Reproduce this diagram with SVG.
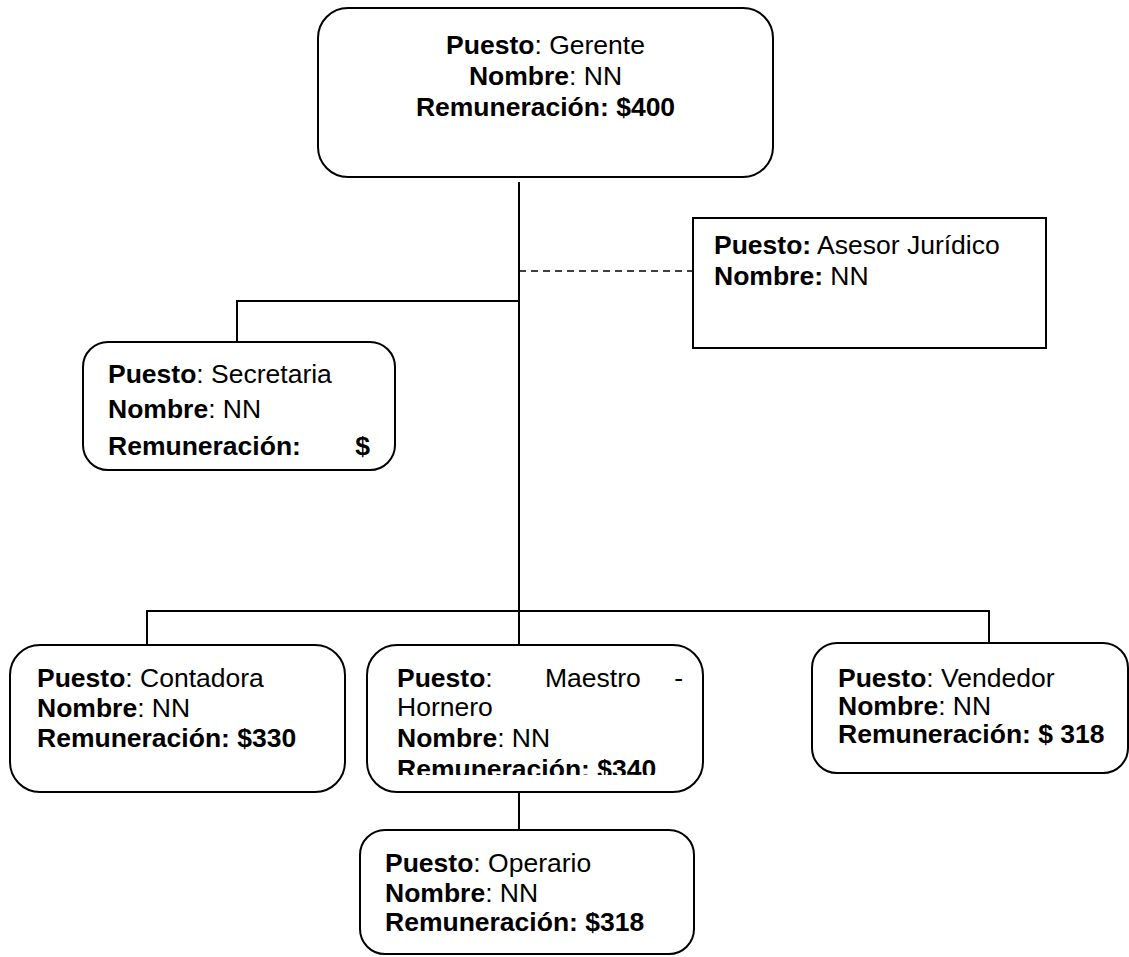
<svg xmlns="http://www.w3.org/2000/svg" width="1129" height="957" viewBox="0 0 1129 957">
<style>
.box{fill:#fff;stroke:#000;stroke-width:2}
.ln{fill:none;stroke:#000;stroke-width:2}
.dash{fill:none;stroke:#000;stroke-width:1.5;stroke-dasharray:7 5}
text{font-family:"Liberation Sans",Arial,sans-serif;font-size:26.5px;fill:#000}
.b{font-weight:bold}
</style>
<defs>
<clipPath id="clipM"><rect x="360" y="640" width="350" height="135"/></clipPath>
</defs>
<rect width="1129" height="957" fill="#fff"/>
<g id="connectors">
<line class="ln" x1="519" y1="182" x2="519" y2="612"/>
<polyline class="ln" points="519,301 237,301 237,342"/>
<line class="dash" x1="519" y1="271" x2="693" y2="271"/>
<polyline class="ln" points="147,645 147,611 989,611 989,643"/>
<line class="ln" x1="519" y1="611" x2="519" y2="645"/>
<line class="ln" x1="519" y1="792" x2="519" y2="830"/>
</g>
<g id="gerente">
<rect class="box" x="318" y="8" width="455" height="169" rx="30"/>
<text x="545.5" y="54" text-anchor="middle"><tspan class="b">Puesto</tspan>: Gerente</text>
<text x="545.5" y="85" text-anchor="middle"><tspan class="b">Nombre</tspan>: NN</text>
<text x="545.5" y="116" text-anchor="middle" class="b">Remuneración: $400</text>
</g>
<g id="asesor">
<rect class="box" x="693" y="218" width="353" height="130"/>
<text x="714" y="254"><tspan class="b">Puesto:</tspan> Asesor Jurídico</text>
<text x="714" y="285"><tspan class="b">Nombre:</tspan> NN</text>
</g>
<g id="secretaria">
<rect class="box" x="83" y="342" width="312" height="128" rx="25"/>
<text x="108" y="383"><tspan class="b">Puesto</tspan>: Secretaria</text>
<text x="108" y="418"><tspan class="b">Nombre</tspan>: NN</text>
<text x="108" y="455" class="b">Remuneración:</text>
<text x="370" y="455" class="b" text-anchor="end">$</text>
</g>
<g id="contadora">
<rect class="box" x="10" y="645" width="335" height="147" rx="30"/>
<text x="37" y="687"><tspan class="b">Puesto</tspan>: Contadora</text>
<text x="37" y="717"><tspan class="b">Nombre</tspan>: NN</text>
<text x="37" y="747" class="b">Remuneración: $330</text>
</g>
<g id="maestro">
<rect class="box" x="367" y="645" width="336" height="147" rx="30"/>
<g clip-path="url(#clipM)">
<text x="397" y="687"><tspan class="b">Puesto</tspan>:</text>
<text x="545" y="687">Maestro</text>
<text x="683" y="687" text-anchor="end">-</text>
<text x="397" y="716">Hornero</text>
<text x="397" y="747"><tspan class="b">Nombre</tspan>: NN</text>
<text x="397" y="778" class="b">Remuneración: $340</text>
</g>
</g>
<g id="vendedor">
<rect class="box" x="812" y="643" width="316" height="130" rx="25"/>
<text x="838" y="687"><tspan class="b">Puesto</tspan>: Vendedor</text>
<text x="838" y="715"><tspan class="b">Nombre</tspan>: NN</text>
<text x="838" y="743" class="b">Remuneración: $ 318</text>
</g>
<g id="operario">
<rect class="box" x="360" y="830" width="334" height="124" rx="25"/>
<text x="385" y="872"><tspan class="b">Puesto</tspan>: Operario</text>
<text x="385" y="902"><tspan class="b">Nombre</tspan>: NN</text>
<text x="385" y="931" class="b">Remuneración: $318</text>
</g>
</svg>
